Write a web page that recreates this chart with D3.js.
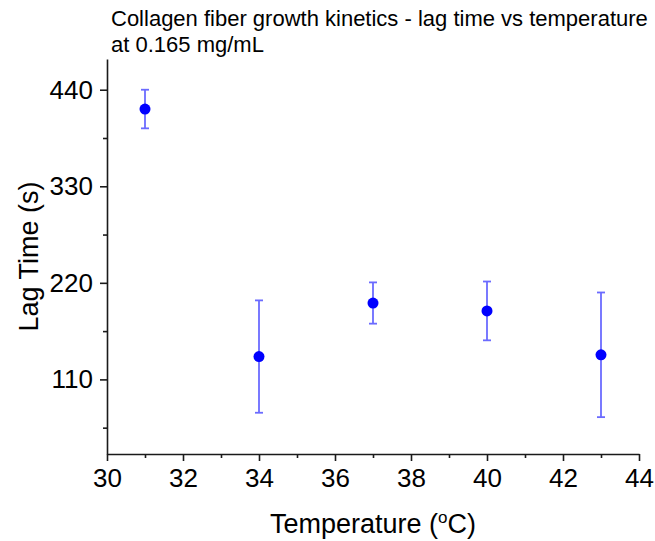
<!DOCTYPE html>
<html>
<head>
<meta charset="utf-8">
<script src="https://cdn.jsdelivr.net/npm/d3@7"></script>
<style>
  body { margin: 0; background: #fff; }
  svg text { font-family: Arial, "Liberation Sans", sans-serif; fill: #000; }
</style>
</head>
<body>
<div id="chart"></div>
<script>
// Data
const temperatures = [31, 34, 37, 40, 43];
const lagTimes = [418, 136, 197, 188, 138];
const lagErrors = [22, 64, 23.5, 33.5, 71];
const xTickValues = [30, 32, 34, 36, 38, 40, 42, 44];
const yTickValues = [110, 220, 330, 440];

const titleLines = ['Collagen fiber growth kinetics - lag time vs temperature', 'at 0.165 mg/mL'];

const W = 655, H = 541;
const margin = { top: 59, right: 16, bottom: 87, left: 107 };
const width = W - margin.left - margin.right;
const height = H - margin.top - margin.bottom;

const svg = d3.select('#chart')
  .append('svg')
  .attr('width', W)
  .attr('height', H);

const g = svg.append('g')
  .attr('transform', `translate(${margin.left},${margin.top})`);

// Scales
const x = d3.scaleLinear().domain([30, 44]).range([0, width]);
const y = d3.scaleLinear().domain([25, 475]).range([height, 0]);

// Minor ticks
const xMinor = d3.range(31, 44, 2);
const yMinor = [55, 165, 275, 385];

g.append('g')
  .attr('transform', `translate(0,${height})`)
  .call(d3.axisBottom(x).tickValues(xMinor).tickSize(4).tickFormat(''))
  .call(a => a.select('.domain').remove());

g.append('g')
  .call(d3.axisLeft(y).tickValues(yMinor).tickSize(4).tickFormat(''))
  .call(a => a.select('.domain').remove());

// Major axes
const xAxis = g.append('g')
  .attr('transform', `translate(0,${height})`)
  .call(d3.axisBottom(x).tickValues(xTickValues).tickSize(7).tickSizeOuter(0).tickPadding(8));

const yAxis = g.append('g')
  .call(d3.axisLeft(y).tickValues(yTickValues).tickSize(7).tickSizeOuter(0).tickPadding(7));

g.selectAll('.domain, .tick line')
  .attr('stroke', '#1a1a1a')
  .attr('stroke-width', 1.6);

xAxis.selectAll('text').attr('font-size', 26).attr('fill', '#000');
yAxis.selectAll('text').attr('font-size', 26).attr('fill', '#000');

// Error bars
const points = temperatures.map((t, i) => ({ t, v: lagTimes[i], e: lagErrors[i] }));
const errColor = '#6b6bff';
const cap = 4;

const eb = g.selectAll('.err')
  .data(points)
  .enter()
  .append('g')
  .attr('class', 'err')
  .attr('stroke', errColor)
  .attr('stroke-width', 1.8);

eb.append('line')
  .attr('x1', d => x(d.t)).attr('x2', d => x(d.t))
  .attr('y1', d => y(d.v - d.e)).attr('y2', d => y(d.v + d.e));
eb.append('line')
  .attr('x1', d => x(d.t) - cap).attr('x2', d => x(d.t) + cap)
  .attr('y1', d => y(d.v + d.e)).attr('y2', d => y(d.v + d.e));
eb.append('line')
  .attr('x1', d => x(d.t) - cap).attr('x2', d => x(d.t) + cap)
  .attr('y1', d => y(d.v - d.e)).attr('y2', d => y(d.v - d.e));

// Points
g.selectAll('.dot')
  .data(points)
  .enter()
  .append('circle')
  .attr('class', 'dot')
  .attr('cx', d => x(d.t))
  .attr('cy', d => y(d.v))
  .attr('r', 5.5)
  .attr('fill', '#0000ff');

// Axis labels
const xl = svg.append('text')
  .attr('x', margin.left + width / 2)
  .attr('y', 533)
  .attr('text-anchor', 'middle')
  .attr('font-size', 27);
xl.append('tspan').text('Temperature (');
xl.append('tspan').attr('font-size', 17).attr('dy', -10).text('o');
xl.append('tspan').attr('dy', 10).text('C)');

svg.append('text')
  .attr('transform', `translate(38,${margin.top + height / 2}) rotate(-90)`)
  .attr('text-anchor', 'middle')
  .attr('font-size', 27)
  .text('Lag Time (s)');

// Title
svg.append('text')
  .attr('x', 111)
  .attr('y', 26)
  .attr('font-size', 22)
  .selectAll('tspan')
  .data(titleLines)
  .enter()
  .append('tspan')
  .attr('x', 111)
  .attr('dy', (d, i) => i === 0 ? 0 : 26)
  .text(d => d);
</script>
</body>
</html>
